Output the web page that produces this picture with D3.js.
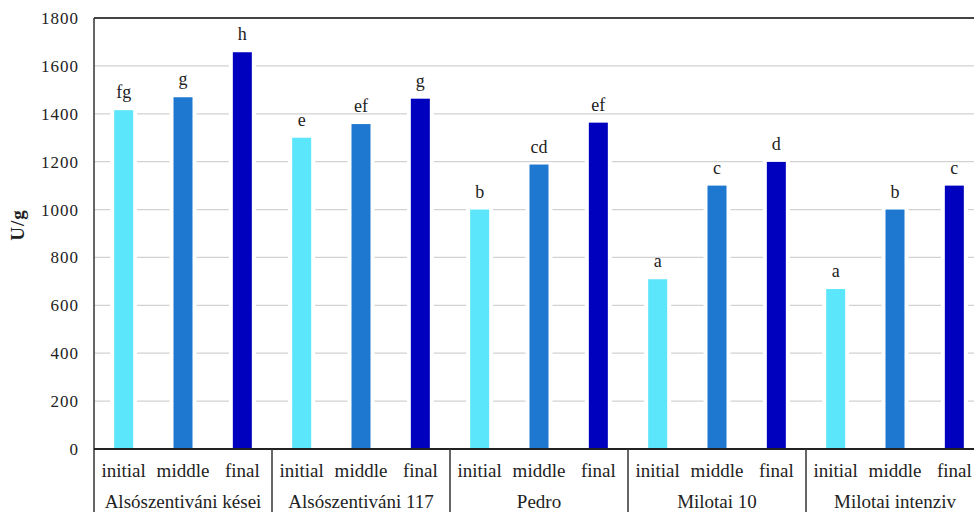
<!DOCTYPE html>
<html>
<head>
<meta charset="utf-8">
<script src="https://cdn.jsdelivr.net/npm/d3@7"></script>
<style>
  body { margin: 0; background: #fff; }
</style>
</head>
<body>
<script>
// data
var varieties = ["Alsószentiváni kései", "Alsószentiváni 117", "Pedro", "Milotai 10", "Milotai intenziv"];
var phases    = ["initial", "middle", "final"];
var initialV  = [1415, 1300, 1000, 709, 668];
var middleV   = [1469, 1357, 1188, 1100, 1000];
var finalV    = [1657, 1463, 1363, 1199, 1100];
var initialL  = ["fg", "e", "b", "a", "a"];
var middleL   = ["g", "ef", "cd", "c", "b"];
var finalL    = ["h", "g", "ef", "d", "c"];
var yTicks    = [0, 200, 400, 600, 800, 1000, 1200, 1400, 1600, 1800];

var colors = { initial: "#5ce6fb", middle: "#1e78cf", final: "#0000bf" };
var values = { initial: initialV, middle: middleV, final: finalV };
var letters = { initial: initialL, middle: middleL, final: finalL };

var W = 974, H = 512;
var mLeft = 94, mTop = 18, mBottom = 449;
var groupW = 178;
var serif = "'Liberation Serif', 'Times New Roman', 'DejaVu Serif', serif";

var svg = d3.select("body").append("svg")
    .attr("width", W).attr("height", H)
    .style("font-family", serif);

var y = d3.scaleLinear().domain([0, 1800]).range([mBottom, mTop]);
var x0 = d3.scaleBand().domain(varieties)
    .range([mLeft, mLeft + groupW * varieties.length]).padding(0);
var x1 = d3.scaleBand().domain(phases).range([0, x0.bandwidth()]).padding(0);
var barW = 19;

// grid lines
svg.append("g").selectAll("line")
  .data(yTicks.filter(function (d) { return d > 0 && d < 1800; }))
  .join("line")
    .attr("x1", mLeft).attr("x2", W)
    .attr("y1", function (d) { return y(d); })
    .attr("y2", function (d) { return y(d); })
    .attr("stroke", "#d2d2d2").attr("stroke-width", 1.3);

// top border
svg.append("line")
    .attr("x1", mLeft).attr("x2", W)
    .attr("y1", y(1800)).attr("y2", y(1800))
    .attr("stroke", "#444").attr("stroke-width", 1.8);

// y axis
var yAxis = d3.axisLeft(y).tickValues(yTicks).tickFormat(d3.format("d"))
    .tickSize(0).tickPadding(15);
var gy = svg.append("g").attr("transform", "translate(" + mLeft + ",0)").call(yAxis);
gy.select(".domain").remove();
gy.attr("font-family", serif).attr("font-size", 17);
gy.selectAll("text").attr("fill", "#222").attr("letter-spacing", 1);

svg.append("text")
    .attr("transform", "translate(24,225) rotate(-90)")
    .attr("text-anchor", "middle")
    .attr("font-size", 19)
    .attr("font-weight", "bold")
    .attr("letter-spacing", 1)
    .attr("fill", "#222")
    .text("U/g");

// bars
var rows = [];
varieties.forEach(function (v, i) {
  phases.forEach(function (p) {
    rows.push({ variety: v, phase: p, value: values[p][i], letter: letters[p][i] });
  });
});

var bx = function (d) {
  return x0(d.variety) + x1(d.phase) + x1.bandwidth() / 2 - barW / 2;
};

// white halo that breaks the gridlines next to each bar
svg.append("g").selectAll("rect")
  .data(rows)
  .join("rect")
    .attr("x", function (d) { return bx(d) - 4; })
    .attr("y", function (d) { return y(d.value) - 2; })
    .attr("width", barW + 8)
    .attr("height", function (d) { return y(0) - y(d.value) + 2; })
    .attr("fill", "#fff");

svg.append("g").selectAll("rect")
  .data(rows)
  .join("rect")
    .attr("x", bx)
    .attr("y", function (d) { return y(d.value); })
    .attr("width", barW)
    .attr("height", function (d) { return y(0) - y(d.value); })
    .attr("fill", function (d) { return colors[d.phase]; });

svg.append("g").selectAll("text")
  .data(rows)
  .join("text")
    .attr("x", function (d) { return bx(d) + barW / 2; })
    .attr("y", function (d) { return y(d.value) - 12; })
    .attr("text-anchor", "middle")
    .attr("font-size", 18)
    .attr("fill", "#222")
    .text(function (d) { return d.letter; });

// axes lines
svg.append("line")
    .attr("x1", mLeft).attr("x2", mLeft)
    .attr("y1", mTop).attr("y2", H)
    .attr("stroke", "#333").attr("stroke-width", 1.5);
svg.append("line")
    .attr("x1", mLeft).attr("x2", W)
    .attr("y1", mBottom).attr("y2", mBottom)
    .attr("stroke", "#222").attr("stroke-width", 1.8);

// group separators
svg.append("g").selectAll("line")
  .data(varieties.slice(1))
  .join("line")
    .attr("x1", function (d) { return x0(d); })
    .attr("x2", function (d) { return x0(d); })
    .attr("y1", mBottom).attr("y2", H)
    .attr("stroke", "#333").attr("stroke-width", 1.5);

// phase labels
svg.append("g").selectAll("text")
  .data(rows)
  .join("text")
    .attr("x", function (d) { return x0(d.variety) + x1(d.phase) + x1.bandwidth() / 2; })
    .attr("y", 477)
    .attr("text-anchor", "middle")
    .attr("font-size", 19)
    .attr("fill", "#222")
    .text(function (d) { return d.phase; });

// variety labels
svg.append("g").selectAll("text")
  .data(varieties)
  .join("text")
    .attr("x", function (d) { return x0(d) + x0.bandwidth() / 2; })
    .attr("y", 508)
    .attr("text-anchor", "middle")
    .attr("font-size", 19)
    .attr("fill", "#222")
    .text(function (d) { return d; });
</script>
</body>
</html>
